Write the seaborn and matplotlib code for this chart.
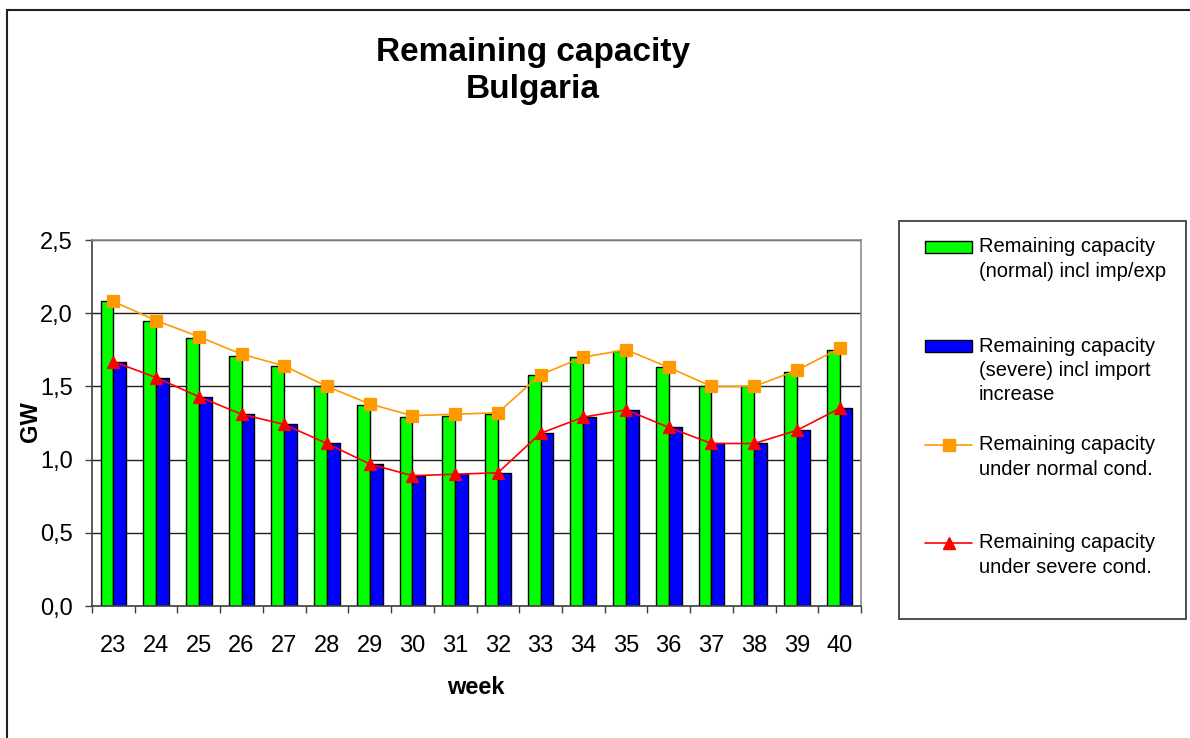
import numpy as np
import pandas as pd
import matplotlib
matplotlib.use("Agg")
import matplotlib.pyplot as plt
import seaborn as sns
from matplotlib.patches import Rectangle
from matplotlib.lines import Line2D
from matplotlib.ticker import FuncFormatter

# ---------------- data ----------------
weeks = ["23", "24", "25", "26", "27", "28", "29", "30", "31",
         "32", "33", "34", "35", "36", "37", "38", "39", "40"]
bar_normal = [2.08, 1.95, 1.83, 1.71, 1.64, 1.50, 1.37, 1.29, 1.30,
              1.31, 1.58, 1.70, 1.74, 1.63, 1.50, 1.50, 1.60, 1.75]
bar_severe = [1.67, 1.56, 1.43, 1.31, 1.24, 1.11, 0.97, 0.89, 0.90,
              0.91, 1.18, 1.29, 1.34, 1.22, 1.11, 1.11, 1.20, 1.35]
line_normal = [2.08, 1.95, 1.84, 1.72, 1.64, 1.50, 1.38, 1.30, 1.31,
               1.32, 1.58, 1.70, 1.75, 1.63, 1.50, 1.50, 1.61, 1.76]
line_severe = [1.67, 1.56, 1.43, 1.31, 1.24, 1.11, 0.97, 0.89, 0.90,
               0.91, 1.18, 1.29, 1.34, 1.22, 1.11, 1.11, 1.20, 1.35]
labels = ["Remaining capacity\n(normal) incl imp/exp",
          "Remaining capacity\n(severe) incl import\nincrease",
          "Remaining capacity\nunder normal cond.",
          "Remaining capacity\nunder severe cond."]
yticks = [0.0, 0.5, 1.0, 1.5, 2.0, 2.5]

C_GREEN, C_BLUE, C_ORANGE, C_RED = "#00FF00", "#0000FF", "#FF9900", "#FF0000"

# ---------------- figure ----------------
sns.set_style("white")
plt.rcParams["font.family"] = ["Liberation Sans", "DejaVu Sans"]
plt.rcParams["text.color"] = "black"
plt.rcParams["axes.labelcolor"] = "black"
plt.rcParams["xtick.color"] = "black"
plt.rcParams["ytick.color"] = "black"

W, H = 1190, 738
fig = plt.figure(figsize=(W / 100, H / 100), dpi=100)
ax = fig.add_axes([92 / W, 1 - 606 / H, 769 / W, 366 / H])

bars = pd.DataFrame({
    "week": weeks * 2,
    "value": bar_normal + bar_severe,
    "series": ["normal"] * len(weeks) + ["severe"] * len(weeks),
})
sns.barplot(data=bars, x="week", y="value", hue="series",
            palette=[C_GREEN, C_BLUE], saturation=1, width=0.6, gap=0,
            edgecolor="black", linewidth=1, legend=False, ax=ax, zorder=2)

lines = pd.DataFrame({"week": weeks, "normal": line_normal, "severe": line_severe})
sns.pointplot(data=lines, x="week", y="normal", color=C_ORANGE, markers="s",
              markersize=8, linewidth=1.2, errorbar=None, ax=ax,
              markeredgecolor=C_ORANGE, zorder=4)
sns.pointplot(data=lines, x="week", y="severe", color=C_RED, markers="^",
              markersize=9, linewidth=1.2, errorbar=None, ax=ax,
              markeredgecolor=C_RED, zorder=4)

ax.set_xlim(-0.5, len(weeks) - 0.5)
ax.set_ylim(0, 2.5)
ax.set_yticks(yticks)
ax.yaxis.set_major_formatter(FuncFormatter(lambda v, p: f"{v:.1f}".replace(".", ",")))
ax.set_xticks(range(len(weeks)))
ax.set_xticklabels(weeks)
ax.set_xticks(np.arange(-0.5, len(weeks), 1), minor=True)
ax.tick_params(axis="x", which="major", bottom=True, length=0, pad=21, labelsize=17,
               labelcolor="black")
ax.tick_params(axis="x", which="minor", bottom=True, length=5, width=1,
               color="#404040", direction="out")
ax.tick_params(axis="y", which="major", left=True, length=5, width=1, color="#404040",
               direction="out", pad=9, labelsize=17, labelcolor="black")
ax.set_axisbelow(True)
ax.yaxis.grid(True, color="#202020", lw=1)
ax.xaxis.grid(False)
for s in ["left", "bottom"]:
    ax.spines[s].set_color("#404040")
    ax.spines[s].set_linewidth(1.2)
for s in ["top", "right"]:
    ax.spines[s].set_color("#8c8c8c")
    ax.spines[s].set_linewidth(1.2)
ax.set_xlabel("")
ax.set_ylabel("")

# axis labels and title
fig.text(476 / W, 1 - 688 / H, "week", ha="center", va="center",
         fontsize=17, fontweight="bold")
fig.text(30 / W, 1 - 422 / H, "GW", ha="center", va="center",
         fontsize=17, fontweight="bold", rotation=90)
fig.text(533 / W, 1 - 71 / H, "Remaining capacity\nBulgaria", ha="center", va="center",
         fontsize=24, fontweight="bold", linespacing=1.22)

# outer chart frame
fig.add_artist(Rectangle((7 / W, -0.05), 1.1, 1 - 10 / H + 0.05,
                         transform=fig.transFigure, fill=False,
                         edgecolor="#202020", lw=1.5))

# legend box (manual, Excel-like layout)
fig.add_artist(Rectangle((899 / W, 1 - 619 / H), 287 / W, 398 / H,
                         transform=fig.transFigure, fill=False,
                         edgecolor="#303030", lw=1.2))
entry_y = [247, 346, 445, 543]
handle_x0, handle_x1 = 925, 972
for i, (lab, yy) in enumerate(zip(labels, entry_y)):
    if i < 2:
        fig.add_artist(Rectangle((handle_x0 / W, 1 - (yy + 6) / H),
                                 (handle_x1 - handle_x0) / W, 12 / H,
                                 transform=fig.transFigure,
                                 facecolor=[C_GREEN, C_BLUE][i],
                                 edgecolor="black", lw=1))
    else:
        col = [C_ORANGE, C_RED][i - 2]
        mk = ["s", "^"][i - 2]
        ms = [8, 9][i - 2]
        fig.add_artist(Line2D([handle_x0 / W, handle_x1 / W], [1 - yy / H, 1 - yy / H],
                              transform=fig.transFigure, color=col, lw=1.2))
        fig.add_artist(Line2D([(handle_x0 + handle_x1) / 2 / W], [1 - yy / H],
                              transform=fig.transFigure, color=col, marker=mk,
                              markersize=ms, markeredgecolor=col, lw=0))
    for j, line in enumerate(lab.split("\n")):
        fig.text(979 / W, 1 - (yy + j * 24.5) / H, line, ha="left", va="center",
                 fontsize=14.5, color="black")

fig.savefig("out.png", dpi=100)
